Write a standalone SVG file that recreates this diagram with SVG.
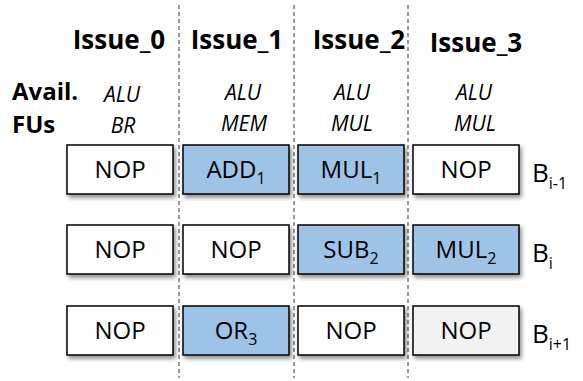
<svg xmlns="http://www.w3.org/2000/svg" width="583" height="381" viewBox="0 0 583 381">
<defs>
<filter id="sh" x="-10%" y="-10%" width="130%" height="140%">
<feGaussianBlur in="SourceAlpha" stdDeviation="2"/>
<feOffset dx="1.5" dy="3" result="b"/>
<feComponentTransfer><feFuncA type="linear" slope="0.45"/></feComponentTransfer>
<feMerge><feMergeNode/><feMergeNode in="SourceGraphic"/></feMerge>
</filter>
</defs>
<style>
.box{stroke:#000;stroke-width:1.5;filter:url(#sh)}
.w{fill:#fff}.b{fill:#9dc3e6}.g{fill:#f2f2f2}
.t{font-family:"Open Sans","Noto Sans",sans-serif;font-size:24px;fill:#000;text-anchor:middle}
.h{font-family:"Open Sans","Noto Sans",sans-serif;font-size:26px;font-weight:bold;fill:#000;text-anchor:middle}
.lab{font-family:"Open Sans","Noto Sans",sans-serif;font-size:24px;font-weight:bold;fill:#000;text-anchor:start}
.fu{font-family:"Open Sans","Noto Sans",sans-serif;font-size:21px;font-style:italic;fill:#000;text-anchor:middle}
.sub{font-size:16px}
.dash{stroke:#333;stroke-width:1;stroke-dasharray:4 3;fill:none}
</style>
<g id="connectors">
<line class="dash" x1="179" y1="5" x2="179" y2="378"/>
<line class="dash" x1="294" y1="5" x2="294" y2="378"/>
<line class="dash" x1="408" y1="5" x2="408" y2="378"/>
</g>
<g id="headers">
<text class="h" x="119" y="49">Issue_0</text>
<text class="h" x="237" y="49">Issue_1</text>
<text class="h" x="359" y="49">Issue_2</text>
<text class="h" x="476" y="52">Issue_3</text>
<text class="lab" x="12" y="100">Avail.</text>
<text class="lab" x="12" y="133">FUs</text>
<text class="fu" x="122" y="102">ALU</text>
<text class="fu" x="123" y="133">BR</text>
<text class="fu" x="243" y="100">ALU</text>
<text class="fu" x="244" y="131">MEM</text>
<text class="fu" x="352" y="100">ALU</text>
<text class="fu" x="352" y="131">MUL</text>
<text class="fu" x="474" y="100">ALU</text>
<text class="fu" x="475" y="131">MUL</text>
</g>
<g id="row1">
<g id="n-r1c0"><rect class="box w" x="67" y="145" width="106" height="49"/><text class="t" x="120" y="178">NOP</text></g>
<g id="n-r1c1"><rect class="box b" x="183" y="145" width="106" height="49"/><text class="t" x="236" y="178">ADD<tspan class="sub" dy="6">1</tspan></text></g>
<g id="n-r1c2"><rect class="box b" x="298" y="145" width="106" height="49"/><text class="t" x="351" y="178">MUL<tspan class="sub" dy="6">1</tspan></text></g>
<g id="n-r1c3"><rect class="box w" x="413" y="145" width="106" height="49"/><text class="t" x="466" y="178">NOP</text></g>
<g id="lbl-r1"><text class="t" x="532" y="182" style="text-anchor:start;font-size:26px">B<tspan class="sub" dy="7">i-1</tspan></text></g>
</g>
<g id="row2">
<g id="n-r2c0"><rect class="box w" x="67" y="225" width="106" height="49"/><text class="t" x="120" y="258">NOP</text></g>
<g id="n-r2c1"><rect class="box w" x="183" y="225" width="106" height="49"/><text class="t" x="236" y="258">NOP</text></g>
<g id="n-r2c2"><rect class="box b" x="298" y="225" width="106" height="49"/><text class="t" x="351" y="258">SUB<tspan class="sub" dy="6">2</tspan></text></g>
<g id="n-r2c3"><rect class="box b" x="413" y="225" width="106" height="49"/><text class="t" x="466" y="258">MUL<tspan class="sub" dy="6">2</tspan></text></g>
<g id="lbl-r2"><text class="t" x="532" y="262" style="text-anchor:start;font-size:26px">B<tspan class="sub" dy="7">i</tspan></text></g>
</g>
<g id="row3">
<g id="n-r3c0"><rect class="box w" x="67" y="306" width="106" height="49"/><text class="t" x="120" y="339">NOP</text></g>
<g id="n-r3c1"><rect class="box b" x="183" y="306" width="106" height="49"/><text class="t" x="236" y="339">OR<tspan class="sub" dy="6">3</tspan></text></g>
<g id="n-r3c2"><rect class="box w" x="298" y="306" width="106" height="49"/><text class="t" x="351" y="339">NOP</text></g>
<g id="n-r3c3"><rect class="box g" x="413" y="306" width="106" height="49"/><text class="t" x="466" y="339">NOP</text></g>
<g id="lbl-r3"><text class="t" x="532" y="343" style="text-anchor:start;font-size:26px">B<tspan class="sub" dy="7">i+1</tspan></text></g>
</g>
</svg>
